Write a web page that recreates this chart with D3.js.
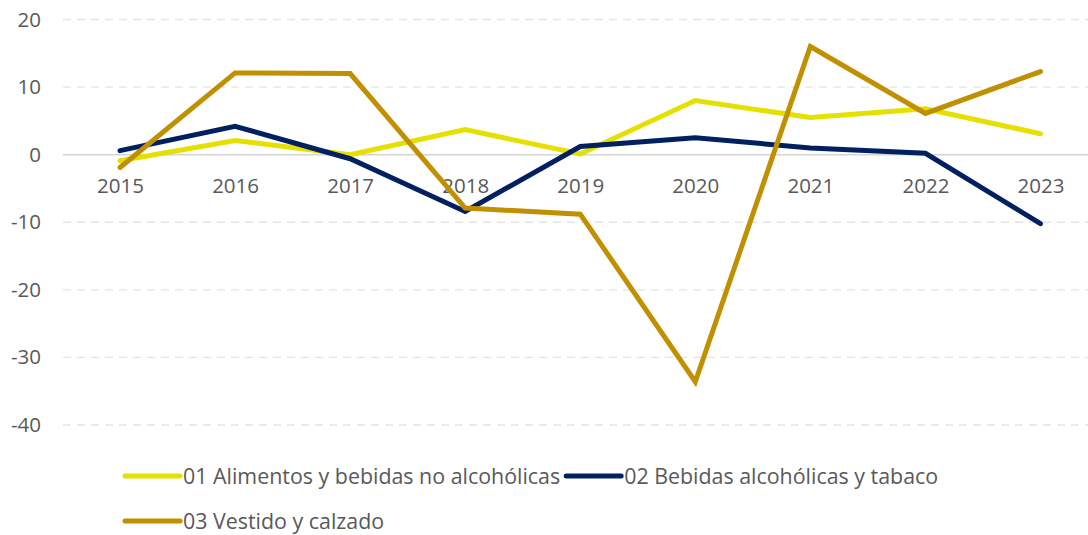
<!DOCTYPE html>
<html><head><meta charset="utf-8">
<script src="https://cdn.jsdelivr.net/npm/d3@7"></script>
<style>body{margin:0;background:#fff;}svg{display:block;font-family:"Open Sans",sans-serif;}</style>
</head><body><svg id="c" width="1088" height="535"></svg>
<script>
const years = ["2015","2016","2017","2018","2019","2020","2021","2022","2023"];
const seriesNames = ["01 Alimentos y bebidas no alcohólicas","02 Bebidas alcohólicas y tabaco","03 Vestido y calzado"];
const s01 = [-0.9, 2.1, 0.0, 3.7, 0.1, 8.0, 5.5, 6.8, 3.1];
const s02 = [0.6, 4.2, -0.6, -8.4, 1.2, 2.5, 1.0, 0.2, -10.2];
const s03 = [-1.9, 12.1, 12.0, -7.9, -8.8, -33.6, 16.0, 6.1, 12.3];
const yTicks = [20, 10, 0, -10, -20, -30, -40];
const colors = ["#E6E000", "#002060", "#C09000"];
const FS = 20.5, LFS = 21.4;

const svg = d3.select("#c");
const x = d3.scalePoint().domain(years).range([62.5, 1098]).padding(0.5);
const y = d3.scaleLinear().domain([-40, 20]).range([425, 19.5]);

svg.append("g").selectAll("line").data(yTicks.filter(d => d !== 0)).join("line")
  .attr("x1", 63).attr("x2", 1088).attr("y1", d => y(d)).attr("y2", d => y(d))
  .attr("stroke", "#e3e3e3").attr("stroke-width", 1.3).attr("stroke-dasharray", "8,6");
svg.append("line").attr("x1", 63).attr("x2", 1088).attr("y1", y(0)).attr("y2", y(0))
  .attr("stroke", "#d4d4d4").attr("stroke-width", 1.5);

const yAxis = d3.axisLeft(y).tickValues(yTicks).tickSize(0).tickPadding(0).tickFormat(d => String(d));
const ya = svg.append("g").attr("transform", "translate(41,0)").call(yAxis);
ya.select(".domain").remove();
ya.selectAll("text").attr("font-size", FS).attr("fill", "#595959").attr("font-family", "Open Sans");

const xAxis = d3.axisBottom(x).tickSize(0).tickPadding(0);
const xa = svg.append("g").attr("transform", `translate(0,${y(0)+31})`).call(xAxis);
xa.select(".domain").remove();
xa.selectAll("text").attr("font-size", FS).attr("fill", "#595959").attr("font-family", "Open Sans").attr("dy", "0.35em");

const data = [s01, s02, s03];
const line = d3.line().x((d, i) => x(years[i])).y(d => y(d));
svg.append("g").selectAll("path").data(data).join("path")
  .attr("d", line).attr("fill", "none")
  .attr("stroke", (d, i) => colors[i]).attr("stroke-width", 5)
  .attr("stroke-linejoin", "miter").attr("stroke-linecap", "round");

const lg = svg.append("g");
let lx = 125;
seriesNames.forEach((name, i) => {
  const row = i < 2 ? 476 : 521;
  if (i === 2) lx = 125;
  const g = lg.append("g").attr("transform", `translate(${lx},${row})`);
  g.append("line").attr("x1", 0).attr("x2", 55).attr("y1", 0).attr("y2", 0)
    .attr("stroke", colors[i]).attr("stroke-width", 5).attr("stroke-linecap", "round");
  const t = g.append("text").attr("x", 58).attr("y", 0).attr("dy", "0.35em")
    .attr("font-size", LFS).attr("fill", "#595959").text(name);
  lx += 58 + t.node().getComputedTextLength() + 6;
});
</script></body></html>
